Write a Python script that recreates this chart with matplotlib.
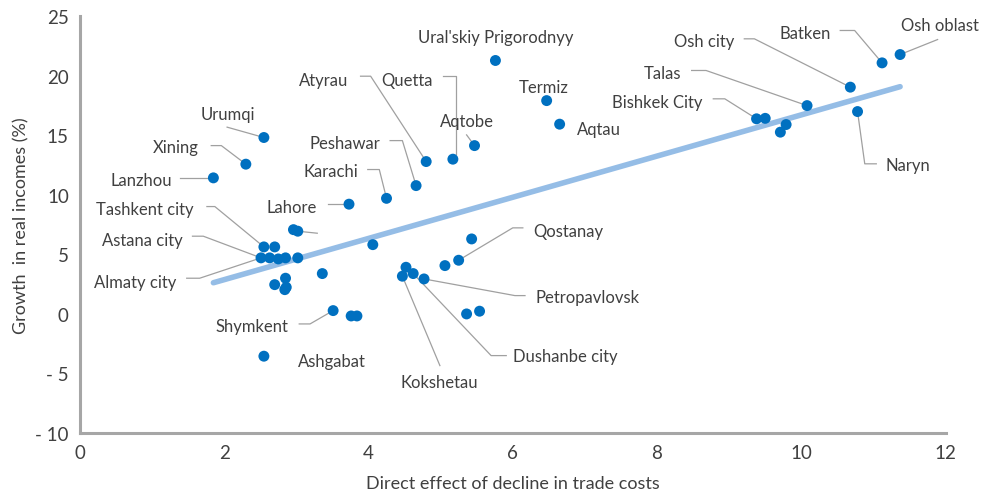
import numpy as np
import matplotlib
matplotlib.use("Agg")
import matplotlib.pyplot as plt

plt.rcParams['font.family'] = ['Lato', 'DejaVu Sans']

# direct effect of trade-cost decline (x) vs growth in real incomes, % (y)
direct_effect = [11.37, 11.12, 10.68, 10.08, 10.78, 9.38, 9.50, 9.79, 9.71,
                 5.76, 6.47, 6.65, 5.47, 5.17, 4.80, 4.66, 4.25,
                 2.55, 2.30, 1.85, 3.73, 2.96, 3.02, 4.06,
                 2.55, 2.70, 2.51, 2.63, 2.75, 2.85, 3.02,
                 3.36, 2.85, 2.70, 2.86, 2.84, 3.51, 3.76, 3.84, 2.55,
                 5.43, 5.25, 5.06, 4.52, 4.47, 4.62, 4.77, 5.36, 5.54]
income_growth = [21.79, 21.09, 19.05, 17.50, 17.00, 16.39, 16.43, 15.91, 15.27,
                 21.29, 17.92, 15.94, 14.14, 13.00, 12.80, 10.78, 9.71,
                 14.82, 12.58, 11.43, 9.22, 7.08, 6.95, 5.82,
                 5.63, 5.63, 4.71, 4.71, 4.62, 4.71, 4.71,
                 3.39, 3.00, 2.46, 2.24, 2.04, 0.28, -0.17, -0.17, -3.55,
                 6.30, 4.51, 4.06, 3.92, 3.17, 3.39, 2.94, 0.00, 0.23]

# trend line coefficients (slope, intercept)
trend = (1.73, -0.58)

# name, text position, leader elbow points, index of the dot it points to
labels = [
    ("Osh oblast", (11.92, 24.23), [(11.89, 23.05)], 0),
    ("Batken", (10.05, 23.61), [(10.54, 23.81), (10.74, 23.81)], 1),
    ("Osh city", (8.66, 22.92), [(9.21, 23.11), (9.35, 23.11)], 2),
    ("Talas", (8.07, 20.25), [(8.48, 20.45), (8.68, 20.45)], 3),
    ("Bishkek City", (8.01, 17.79), [(8.78, 18.07), (8.94, 18.07)], 5),
    ("Naryn", (11.48, 12.55), [(11.04, 12.61), (10.88, 12.61)], 4),
    ("Ural'skiy Prigorodnyy", (5.77, 23.25), [], None),
    ("Termiz", (6.43, 19.10), [], None),
    ("Aqtau", (7.19, 15.55), [], None),
    ("Aqtobe", (5.36, 16.19), [(5.36, 15.04)], 12),
    ("Quetta", (4.54, 19.69), [(5.03, 19.97), (5.21, 19.97), (5.21, 13.45)], None),
    ("Atyrau", (3.38, 19.69), [(3.89, 19.97), (4.03, 19.97)], 14),
    ("Peshawar", (3.67, 14.34), [(4.30, 14.56), (4.47, 14.56)], 15),
    ("Karachi", (3.48, 11.99), [(3.99, 12.13), (4.15, 12.13)], 16),
    ("Urumqi", (2.05, 16.81), [(2.04, 15.69)], 17),
    ("Xining", (1.33, 14.03), [(1.82, 14.14), (1.96, 14.14)], 18),
    ("Lanzhou", (0.85, 11.26), [(1.39, 11.43)], 19),
    ("Lahore", (2.93, 9.02), [(3.44, 9.22)], 20),
    ("", (3.29, 6.78), [(3.29, 6.78)], 22),
    ("Tashkent city", (0.90, 8.82), [(1.76, 9.02), (1.87, 9.02)], 24),
    ("Astana city", (0.87, 6.24), [(1.56, 6.53), (1.71, 6.53)], 26),
    ("Almaty city", (0.76, 2.71), [(1.48, 3.00), (1.66, 3.00)], 26),
    ("Shymkent", (2.39, -1.03), [(3.04, -0.84), (3.19, -0.84)], 36),
    ("Ashgabat", (3.49, -3.92), [], None),
    ("Qostanay", (6.77, 7.00), [(6.14, 7.23), (6.00, 7.23)], 41),
    ("Petropavlovsk", (7.04, 1.45), [(6.17, 1.54), (6.03, 1.54)], 46),
    ("Dushanbe city", (6.73, -3.55), [(5.91, -3.50), (5.70, -3.50)], 45),
    ("Kokshetau", (4.98, -5.74), [(4.99, -4.34)], 44),
]

x = np.array(direct_effect)
y = np.array(income_growth)

fig = plt.figure(figsize=(9.87, 5.02), dpi=100)
ax = fig.add_axes([0.081, 0.1355, 0.877, 0.83])

grey = '#a6a6a6'
txt = '#404040'

# leader lines first so dots sit on top
for name, pos, elbows, idx in labels:
    pts = list(elbows)
    if idx is not None:
        pts.append((x[idx], y[idx]))
    if len(pts) > 1:
        px, py = zip(*pts)
        ax.plot(px, py, color='#a0a0a0', lw=0.9, zorder=1)
    if name:
        ax.text(pos[0], pos[1], name, ha='center', va='center',
                fontsize=12, color=txt)

# linear trend over the data range
xs = np.array([x.min(), x.max()])
ax.plot(xs, trend[0] * xs + trend[1], color='#95bde6', lw=4,
        solid_capstyle='round', zorder=2)

ax.scatter(x, y, s=62, color='#0070c0', edgecolor='none', zorder=3)

ax.set_xlim(0, 12)
ax.set_ylim(-10, 25)
ax.set_xticks(range(0, 13, 2))
ax.set_yticks(range(-10, 26, 5))
ax.set_yticklabels([str(v).replace('-', '- ') for v in range(-10, 26, 5)])
ax.tick_params(length=0, labelsize=13.5, colors=txt, pad=8)
for s in ['top', 'right']:
    ax.spines[s].set_visible(False)
for s in ['left', 'bottom']:
    ax.spines[s].set_color(grey)
    ax.spines[s].set_linewidth(2.2)
ax.set_xlabel('Direct effect of decline in trade costs', fontsize=13, color=txt, labelpad=10)
ax.set_ylabel('Growth  in real incomes (%)', fontsize=13, color=txt, labelpad=4)

fig.savefig('out.png', dpi=100)
